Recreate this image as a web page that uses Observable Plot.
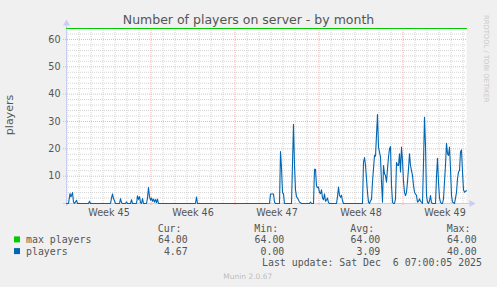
<!DOCTYPE html>
<html>
<head>
<meta charset="utf-8">
<script src="https://cdn.jsdelivr.net/npm/d3@7"></script>
<script src="https://cdn.jsdelivr.net/npm/@observablehq/plot@0.6"></script>
<style>
  html, body { margin: 0; padding: 0; background: #f0f0f0; }
  #wrap { position: relative; width: 497px; height: 287px; overflow: hidden; }
  #wrap svg { position: absolute; left: 0; top: 0; }
</style>
</head>
<body>
<div id="wrap"></div>
<script>
// ---- data ----
const title = "Number of players on server - by month";
const yLabel = "players";
const yTicks = [10, 20, 30, 40, 50, 60];
const weekLabels = ["Week 45", "Week 46", "Week 47", "Week 48", "Week 49"];
const weekCenters = ["2025-11-06T12:00Z", "2025-11-13T12:00Z", "2025-11-20T12:00Z", "2025-11-27T12:00Z", "2025-12-04T12:00Z"];
const startTime = "2025-11-02T23:00Z";
const endTime = "2025-12-06T07:00Z";

// max players series (hours from start, value)
const maxHours = [0, 800];
const maxPlayers = [64, 64];

// players series (hours from start, value)
const playerHours = [
  0,4,7,9,12,14,16,20,22,44,46,48,88,90,92,94,96,98,106,108,110,112,118,120,122,128,130,132,
  140,142,144,146,148,150,152,154,160,162,164,166,168,170,172,174,176,178,180,182,184,
  258,260,262,406,408,414,416,418,426,428,430,432,434,436,450,454,456,458,460,462,466,470,
  486,488,490,494,496,498,500,502,504,506,508,510,512,514,516,518,520,522,524,526,
  540,542,544,546,548,550,552,554,592,594,596,598,600,602,604,606,608,610,612,614,616,618,
  620,622,624,626,628,630,632,634,636,638,640,642,644,646,648,650,652,654,656,658,660,662,
  664,666,668,670,672,674,676,678,680,682,684,686,688,690,692,694,696,698,700,702,704,706,
  708,710,712,714,716,718,720,722,724,726,728,730,732,738,740,742,744,746,748,750,752,754,
  756,758,760,762,764,766,768,770,772,776,778,780,782,784,786,788,790,792,794,796,798,800
];
const players = [
  0,0,3.6,2.4,4,0.5,0,1.2,0,0,0.8,0,0,2,3.5,1.8,1,0,0,1.8,0.3,0,0,0.6,0,0,1.4,0,
  0,2.8,1.5,2.5,0.3,0,1.8,0,0,2,5.8,2.5,1.2,2,0.8,1.6,0.5,1.5,0.3,1.6,0,
  0,2.4,0,0,3.5,3.5,0.5,0,0,19,13,4,3.5,0,0,29,14,5,2.5,2,0.5,0,
  0,0.5,0,0,12.5,12.5,6.5,5.8,6,4,3.6,5,2,1.4,3.5,0.8,1.2,2,0.3,0,
  0,2.5,6,3,2.3,3,1,0,0,15,16.8,14,9,4,0.5,0,1,1.5,8,12.7,17.6,17.3,
  25,32.5,20.6,18.8,17,7.8,0.5,13.9,10.9,10.2,7.8,12.7,17,20,20.8,6.6,0.5,0,0,1.7,15,14,
  13.9,18.2,11.5,20.6,15.7,8,4.1,2.9,4.1,8,12.7,18.2,13.9,12,10.2,6.6,4.1,3.5,2.9,0.5,0.8,1.7,
  0.8,0.5,0,15,31.5,21,2.9,0.5,0,1,2.9,0.3,0,0,10,16.5,7.8,2,0.5,0,0,1.7,
  8,14,22,18.2,17.6,20.6,12.7,3,0.5,0,2,4.1,9,11.5,12.1,18.8,19.6,11.5,5,4.1,4.5,4.67
];

// legend values
const legendHeaders = ["Cur:", "Min:", "Avg:", "Max:"];
const legendNames = ["max players", "players"];
const legendColors = ["#00cc00", "#0066b3"];
const legendValues = [
  ["64.00", "64.00", "64.00", "64.00"],
  ["4.67", "0.00", "3.09", "40.00"]
];
const lastUpdate = "Last update: Sat Dec  6 07:00:05 2025";
const muninVersion = "Munin 2.0.67";
const rrdCredit = "RRDTOOL / TOBI OETIKER";

// ---- build ----
const start = new Date(startTime);
const end = new Date(endTime);
const H = 3600e3;
const playerData = playerHours.map((h, i) => ({t: new Date(+start + h * H), v: players[i]}));
const maxData = maxHours.map((h, i) => ({t: new Date(+start + h * H), v: maxPlayers[i]}));
const centers = weekCenters.map(s => new Date(s));

const days = d3.utcDay.range(start, end);
const mondays = days.filter(d => d.getUTCDay() === 1);
const otherDays = days.filter(d => d.getUTCDay() !== 1);
const minorY = d3.range(2, 64, 2).filter(v => v % 10 !== 0);

const axisC = "#c9cdf3";
const minorC = "#d4d4d4";
const majorC = "#f2b4b4";

const chart = Plot.plot({
  width: 497, height: 287,
  marginLeft: 66, marginRight: 31, marginTop: 28, marginBottom: 84,
  x: {type: "utc", domain: [start, end]},
  y: {domain: [0, 64]},
  style: {background: "transparent", color: "#555", fontFamily: "DejaVu Sans", fontSize: "9.6px", overflow: "visible"},
  marks: [
    Plot.frame({fill: "#ffffff", stroke: "none"}),
    Plot.ruleY(minorY, {stroke: minorC, strokeDasharray: "1,1"}),
    Plot.ruleX(otherDays, {stroke: minorC, strokeDasharray: "1,1"}),
    Plot.ruleY(yTicks, {stroke: majorC, strokeDasharray: "1,1", insetLeft: -3}),
    Plot.ruleX(mondays, {stroke: majorC, strokeDasharray: "1,1", insetBottom: -3}),
    Plot.ruleX([start], {stroke: axisC, insetTop: -4, insetBottom: -3}),
    Plot.ruleY([0], {stroke: axisC, insetLeft: -3, insetRight: -4}),
    Plot.dot([start], {x: d => d, y: () => 64, symbol: "triangle", r: 2.6, fill: axisC, stroke: "none", dy: -5}),
    Plot.dot([end], {x: d => d, y: () => 0, symbol: "triangle", rotate: 90, r: 2.6, fill: axisC, stroke: "none", dx: 5}),
    Plot.axisY({ticks: yTicks, tickSize: 0, tickPadding: 6, label: null, fontSize: 9.6}),
    Plot.axisX({ticks: centers, tickSize: 0, tickPadding: 6, label: null, fontSize: 9.6,
      tickFormat: d => weekLabels[centers.findIndex(c => +c === +d)]}),
    Plot.line(maxData, {x: "t", y: "v", stroke: "#00cc00", strokeWidth: 1.2}),
    Plot.line(playerData, {x: "t", y: "v", stroke: "#0066b3", strokeWidth: 1.1})
  ]
});
const wrap = document.getElementById("wrap");
wrap.appendChild(chart);

// ---- text overlay: title, axis label, legend, credits ----
const ov = d3.select(wrap).append("svg")
  .attr("width", 497).attr("height", 287)
  .style("pointer-events", "none");

ov.append("text").attr("x", 248.5).attr("y", 24).attr("text-anchor", "middle")
  .attr("font-family", "DejaVu Sans").attr("font-size", 12.5).attr("fill", "#555").text(title);

ov.append("text").attr("transform", "translate(13,115) rotate(-90)").attr("text-anchor", "middle")
  .attr("font-family", "DejaVu Sans").attr("font-size", 11).attr("fill", "#555").text(yLabel);

ov.append("text").attr("transform", "translate(484,15) rotate(90)").attr("text-anchor", "start")
  .attr("font-family", "DejaVu Sans").attr("font-size", 6.8).attr("fill", "#c8c8c8").text(rrdCredit);

const mono = "DejaVu Sans Mono";
const colRight = [187.7, 284.3, 380.3, 476.7];
legendHeaders.forEach((h, j) => {
  ov.append("text").attr("x", colRight[j] - 30).attr("y", 231.5)
    .attr("font-family", mono).attr("font-size", 9.9).attr("fill", "#555").text(h);
});
const rowBase = [243, 254.7];
legendNames.forEach((n, i) => {
  ov.append("rect").attr("x", 14).attr("y", rowBase[i] - 6.6).attr("width", 6).attr("height", 6)
    .attr("fill", legendColors[i]);
  ov.append("text").attr("x", 26).attr("y", rowBase[i])
    .attr("font-family", mono).attr("font-size", 9.9).attr("fill", "#555").text(n);
  legendValues[i].forEach((v, j) => {
    ov.append("text").attr("x", colRight[j]).attr("y", rowBase[i]).attr("text-anchor", "end")
      .attr("font-family", mono).attr("font-size", 9.9).attr("fill", "#555").text(v);
  });
});
ov.append("text").attr("x", 482).attr("y", 266.2).attr("text-anchor", "end")
  .attr("font-family", mono).attr("font-size", 9.9).attr("fill", "#555")
  .style("white-space", "pre").attr("xml:space", "preserve").text(lastUpdate);

ov.append("text").attr("x", 247.8).attr("y", 278.5).attr("text-anchor", "middle")
  .attr("font-family", "DejaVu Sans").attr("font-size", 7.5).attr("fill", "#bdbdbd").text(muninVersion);
</script>
</body>
</html>
